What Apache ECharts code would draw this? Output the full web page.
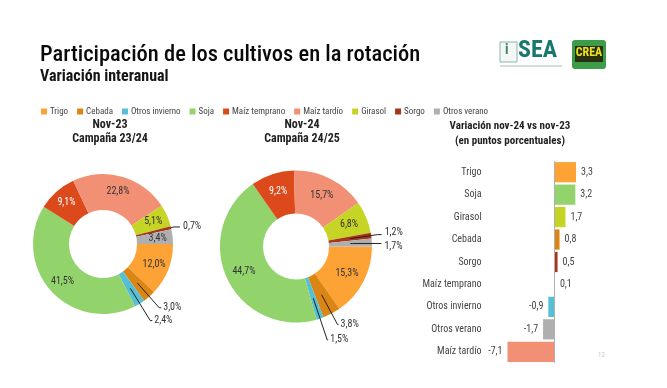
<!DOCTYPE html>
<html>
<head>
<meta charset="utf-8">
<script src="https://cdn.jsdelivr.net/npm/echarts@6/dist/echarts.min.js"></script>
<style>html,body{margin:0;padding:0;background:#fff}#c{width:667px;height:388px}</style>
</head>
<body>
<div id="c"></div>
<script>
const categories = ['Trigo','Cebada','Otros invierno','Soja','Maíz temprano','Maíz tardío','Girasol','Sorgo','Otros verano'];
const palette = ['#FDA235','#DB8614','#55BFD6','#93D36C','#DC4A1C','#F29075','#C6D426','#A7361B','#AFAFAF'];
const nov23 = [12.0, 3.0, 2.4, 41.5, 9.1, 22.8, 5.1, 0.7, 3.4];
const nov24 = [15.3, 3.8, 1.5, 44.7, 9.2, 15.7, 6.8, 1.2, 1.7];
const barCategories = ['Trigo','Soja','Girasol','Cebada','Sorgo','Maíz temprano','Otros invierno','Otros verano','Maíz tardío'];
const barValues = [3.3, 3.2, 1.7, 0.8, 0.5, 0.1, -0.9, -1.7, -7.1];

const FONT = '"Roboto Condensed","Liberation Sans Narrow","Roboto",sans-serif';
const colorOf = {};
categories.forEach((c, i) => colorOf[c] = palette[i]);
const fmt = v => v.toFixed(1).replace('.', ',');

// outside labels: [which series layer, length, length2, distance, vertical nudge]
const outside23 = {
  'Sorgo': ['main', 3, 6, 3, 0],
  'Cebada': ['overlay', 33, 2, 2, 0],
  'Otros invierno': ['overlay', 38, 2, 2, 0]
};
const outside24 = {
  'Sorgo': ['overlay', 28, 4, 3, -2],
  'Otros verano': ['overlay2', 2, 29, 3, 3],
  'Cebada': ['overlay', 34, 1, 2, 0],
  'Otros invierno': ['overlay', 44, 1, 2, 0]
};

function pieData(values, outside, which) {
  return categories.map((name, i) => {
    const o = outside[name];
    const item = { name, value: values[i] };
    if (which === 'main') {
      item.itemStyle = { color: palette[i] };
      if (o && o[0] === 'main') {
        item.label = { show: true, position: 'outside', distanceToLabelLine: o[3], lineHeight: 8 };
        item.labelLine = { show: true, length: o[1], length2: o[2] };
      } else if (o) {
        item.label = { show: false };
      } else {
        item.label = { show: true, position: 'inside', color: name === 'Maíz temprano' ? '#ffffff' : '#333333' };
      }
    } else {
      item.itemStyle = { color: 'rgba(0,0,0,0)' };
      if (o && o[0] === which) {
        item.label = { show: true, position: 'outside', distanceToLabelLine: o[3], lineHeight: 8 };
        item.labelLine = { show: true, length: o[1], length2: o[2] };
      } else {
        item.label = { show: false };
        item.labelLine = { show: false };
      }
    }
    return item;
  });
}

function pieSeries(values, outside, center, r0, r) {
  const nudge = params => {
    const o = outside[categories[params.dataIndex]];
    return (o && o[4]) ? { dy: o[4] } : {};
  };
  const common = {
    type: 'pie', center, startAngle: 0, clockwise: true,
    avoidLabelOverlap: false, silent: true, animation: false,
    labelLayout: nudge,
    labelLine: { show: false, lineStyle: { color: '#222', width: 1 } },
    label: { fontFamily: FONT, fontSize: 10, color: '#333', formatter: p => fmt(p.value) + '%' },
    emphasis: { disabled: true }
  };
  const list = [
    Object.assign({}, common, { radius: [r0, r], data: pieData(values, outside, 'main'),
      itemStyle: { borderWidth: 0 } }),
    Object.assign({}, common, { radius: [r0, (r0 + r) / 2], data: pieData(values, outside, 'overlay'), z: 3 })
  ];
  if (Object.values(outside).some(o => o[0] === 'overlay2')) {
    list.push(Object.assign({}, common, { radius: [r0, (r0 + r) / 2], data: pieData(values, outside, 'overlay2'), z: 4 }));
  }
  return list;
}

const chart = echarts.init(document.getElementById('c'), null, { renderer: 'canvas' });

const graphics = [
  { type: 'text', x: 40, y: 44, style: { text: 'Participación de los cultivos en la rotación', fontFamily: FONT, fontSize: 22.5, fontWeight: 500, fill: '#0a0a0a' } },
  { type: 'text', x: 40, y: 69, style: { text: 'Variación interanual', fontFamily: FONT, fontSize: 16, fontWeight: 'bold', fill: '#151515' } },
  { type: 'text', x: 110, y: 119, style: { text: 'Nov-23', textAlign: 'center', fontFamily: FONT, fontSize: 12, fontWeight: 'bold', fill: '#222' } },
  { type: 'text', x: 110, y: 133, style: { text: 'Campaña 23/24', textAlign: 'center', fontFamily: FONT, fontSize: 12, fontWeight: 'bold', fill: '#222' } },
  { type: 'text', x: 302, y: 119, style: { text: 'Nov-24', textAlign: 'center', fontFamily: FONT, fontSize: 12, fontWeight: 'bold', fill: '#222' } },
  { type: 'text', x: 302, y: 133, style: { text: 'Campaña 24/25', textAlign: 'center', fontFamily: FONT, fontSize: 12, fontWeight: 'bold', fill: '#222' } },
  { type: 'text', x: 510, y: 121, style: { text: 'Variación nov-24 vs nov-23', textAlign: 'center', fontFamily: FONT, fontSize: 11, fontWeight: 'bold', fill: '#222' } },
  { type: 'text', x: 510, y: 136, style: { text: '(en puntos porcentuales)', textAlign: 'center', fontFamily: FONT, fontSize: 11, fontWeight: 'bold', fill: '#222' } },
  { type: 'text', x: 598, y: 352, style: { text: '12', fontFamily: FONT, fontSize: 7, fill: '#c8c8c8' } },
  // SEA logo
  { type: 'rect', shape: { x: 500, y: 42, width: 17, height: 20 }, style: { fill: '#f3f7f5', stroke: '#8fb3a8', lineWidth: 1 } },
  { type: 'text', x: 505, y: 43, style: { text: 'i', fontFamily: FONT, fontSize: 14, fontWeight: 'bold', fill: '#3a8a5a' } },
  { type: 'text', x: 518, y: 39, style: { text: 'SEA', fontFamily: FONT, fontSize: 24, fontWeight: 'bold', fill: '#17796c' } },
  { type: 'rect', shape: { x: 500, y: 65, width: 62, height: 2 }, style: { fill: '#d4dedb' } },
  // CREA logo
  { type: 'rect', shape: { x: 572, y: 40, width: 34, height: 29, r: 3 }, style: { fill: '#3c9c48' } },
  { type: 'rect', shape: { x: 575, y: 46, width: 28, height: 16 }, style: { fill: '#26300f' } },
  { type: 'text', x: 589, y: 47, style: { text: 'CREA', textAlign: 'center', fontFamily: FONT, fontSize: 12, fontWeight: 'bold', fill: '#f0e020' } }
];

const option = {
  backgroundColor: '#ffffff',
  animation: false,
  textStyle: { fontFamily: FONT },
  legend: {
    data: categories,
    left: 36, top: 102,
    icon: 'rect', itemWidth: 6, itemHeight: 6, itemGap: 9,
    textStyle: { fontFamily: FONT, fontSize: 9, color: '#444', padding: [0, 0, 0, -2] },
    selectedMode: false
  },
  graphic: graphics,
  grid: { left: 507.5, right: 91, top: 161, bottom: 25 },
  xAxis: { type: 'value', min: -7.1, max: 3.3, show: false },
  yAxis: {
    type: 'category', data: barCategories, inverse: true,
    axisLine: { show: false }, axisTick: { show: false }, splitLine: { show: false },
    axisLabel: { margin: 26, fontFamily: FONT, fontSize: 10, color: '#444' }
  },
  series: [
    ...pieSeries(nov23, outside23, [103, 244], 34, 70),
    ...pieSeries(nov24, outside24, [296, 246.5], 33, 76),
    {
      type: 'bar', barCategoryGap: '10%', silent: true,
      data: barValues.map((v, i) => ({
        value: v,
        itemStyle: { color: colorOf[barCategories[i]] },
        label: { position: v >= 0 ? 'right' : 'left' }
      })),
      label: { show: true, distance: 5, fontFamily: FONT, fontSize: 10, color: '#444', formatter: p => fmt(p.value) },
      markLine: {
        silent: true, symbol: 'none', label: { show: false },
        lineStyle: { color: '#b0b0b0', width: 1, type: 'solid' },
        data: [{ xAxis: 0 }]
      }
    }
  ]
};
chart.setOption(option);
</script>
</body>
</html>
